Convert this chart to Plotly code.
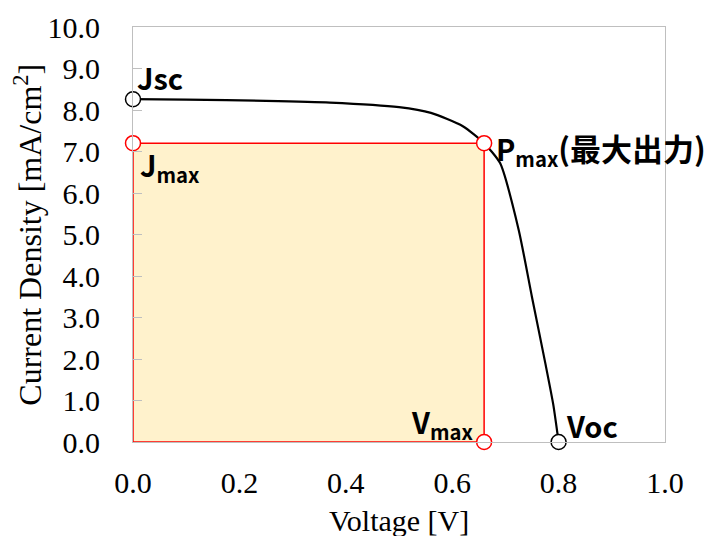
import plotly.graph_objects as go

# J-V curve of the solar cell
voltage = [0.0, 0.10, 0.25, 0.37, 0.50, 0.56, 0.62, 0.66, 0.69, 0.725, 0.75, 0.775, 0.79, 0.80]
current = [8.26, 8.25, 8.22, 8.18, 8.07, 7.93, 7.61, 7.20, 6.72, 5.11, 3.49, 1.90, 0.90, 0.0]

# characteristic points
jsc = 8.26
voc = 0.80
v_max = 0.66
j_max = 7.20

x_ticks = [0.0, 0.2, 0.4, 0.6, 0.8, 1.0]
y_ticks = [0, 1, 2, 3, 4, 5, 6, 7, 8, 9, 10]

serif = "Liberation Serif"
sans = "Noto Sans CJK JP"

fig = go.Figure()

# maximum-power rectangle
fig.add_trace(go.Scatter(
    x=[0, v_max, v_max, 0, 0], y=[0, 0, j_max, j_max, 0],
    mode="lines", fill="toself", fillcolor="#FFF2CC",
    line=dict(color="#FF0000", width=1.5), hoverinfo="skip", showlegend=False,
))

# J-V curve
fig.add_trace(go.Scatter(
    x=voltage, y=current, mode="lines",
    line=dict(color="black", width=2.2, shape="spline", smoothing=0.6),
    showlegend=False,
))

# open circles: Jsc, Voc
fig.add_trace(go.Scatter(
    x=[0, voc], y=[jsc, 0], mode="markers", cliponaxis=False,
    marker=dict(size=15, color="white", line=dict(color="black", width=1.5)),
    showlegend=False,
))
# open circles: Jmax, Pmax, Vmax
fig.add_trace(go.Scatter(
    x=[0, v_max, v_max], y=[j_max, j_max, 0], mode="markers", cliponaxis=False,
    marker=dict(size=15, color="white", line=dict(color="#FF0000", width=1.5)),
    showlegend=False,
))

lab_font = dict(family=sans, size=29, color="black")
annotations = [
    dict(x=0.003, y=8.80, text="<b>Jsc</b>", xanchor="left", yanchor="middle"),
    dict(x=0.010, y=6.66, text="<b>J<sub>max</sub></b>", xanchor="left", yanchor="middle"),
    dict(x=0.678, y=7.05,
         text="<b>P<sub>max</sub><span style='font-size:31px'>(最大出力)</span></b>",
         xanchor="left", yanchor="middle"),
    dict(x=0.643, y=0.46, text="<b>V<sub>max</sub></b>", xanchor="right", yanchor="middle"),
    dict(x=0.81, y=0.40, text="<b>Voc</b>", xanchor="left", yanchor="middle"),
]
for a in annotations:
    a.update(xref="x", yref="y", showarrow=False, font=lab_font)

# axis titles placed as free text
annotations.append(dict(
    xref="paper", yref="paper", x=-0.199, y=0.5, xanchor="center", yanchor="middle",
    text="Current Density [mA/cm<sup>2</sup>]", textangle=-90, showarrow=False,
    font=dict(family=serif, size=32, color="black"),
))
annotations.append(dict(
    xref="paper", yref="paper", x=0.5, y=-0.19, xanchor="center", yanchor="middle",
    text="Voltage [V]", showarrow=False,
    font=dict(family=serif, size=30, color="black"),
))

fig.update_layout(
    width=708, height=536,
    margin=dict(l=133, r=43, t=27, b=94, autoexpand=False),
    paper_bgcolor="white", plot_bgcolor="white",
    annotations=annotations,
    xaxis=dict(
        range=[0, 1], tickvals=x_ticks, tickformat=".1f",
        showgrid=False, zeroline=False, automargin=False,
        showline=True, linecolor="#BFBFBF", linewidth=1.2, mirror=True,
        ticks="", ticklabelstandoff=14,
        tickfont=dict(family=serif, size=30, color="black"),
    ),
    yaxis=dict(
        range=[0, 10], tickvals=y_ticks, tickformat=".1f",
        showgrid=False, zeroline=False, automargin=False,
        showline=True, linecolor="#BFBFBF", linewidth=1.2, mirror=True,
        ticks="inside", ticklen=9, tickcolor="#BFBFBF", tickwidth=1.2,
        ticklabelstandoff=26,
        tickfont=dict(family=serif, size=30, color="black"),
    ),
)

fig.write_html("out.html")
